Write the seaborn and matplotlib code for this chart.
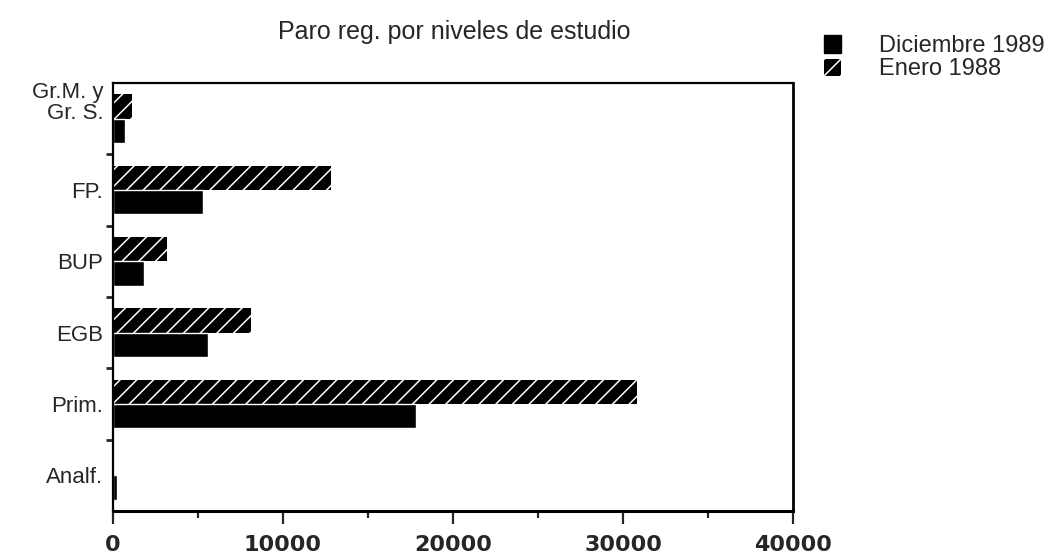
import pandas as pd
import matplotlib
matplotlib.use("Agg")
import matplotlib.pyplot as plt
import seaborn as sns
from matplotlib.patches import Patch
from matplotlib.ticker import MultipleLocator, FixedLocator

# datos
niveles = ["Gr.M. y\nGr. S.", "FP.", "BUP", "EGB", "Prim.", "Analf."]
dic_1989 = [700, 5300, 1800, 5600, 17800, 250]
ene_1988 = [1100, 12800, 3200, 8100, 30800, 0]
periodos = ["Enero 1988", "Diciembre 1989"]

df = pd.DataFrame({
    "nivel": niveles * 2,
    "valor": ene_1988 + dic_1989,
    "periodo": [periodos[0]] * len(niveles) + [periodos[1]] * len(niveles),
})

sns.set_style("white")
plt.rcParams["font.family"] = ["Liberation Sans", "DejaVu Sans"]
plt.rcParams["hatch.linewidth"] = 1.1

fig = plt.figure(figsize=(10.49, 5.6), dpi=100)
ax = fig.add_axes([0.1077, 0.0875, 0.6483, 0.7643])

sns.barplot(data=df, x="valor", y="nivel", hue="periodo", orient="h",
            hue_order=periodos, order=niveles,
            palette={"Enero 1988": "black", "Diciembre 1989": "black"},
            width=0.68, gap=0, saturation=1, legend=False, ax=ax)

# barras de enero 1988 rayadas
for bar in ax.containers[0]:
    bar.set_facecolor("black")
    bar.set_edgecolor("white")
    bar.set_linewidth(0)
    bar.set_hatch("//")

ax.set_xlim(0, 40000)
ax.set_xlabel("")
ax.set_ylabel("")

for side in ["left", "bottom", "top", "right"]:
    ax.spines[side].set_visible(True)
    ax.spines[side].set_color("black")
ax.spines["left"].set_linewidth(1.6)
ax.spines["top"].set_linewidth(1.6)
ax.spines["bottom"].set_linewidth(2.2)
ax.spines["right"].set_linewidth(2.0)

ax.xaxis.set_major_locator(MultipleLocator(10000))
ax.xaxis.set_minor_locator(MultipleLocator(5000))
ax.tick_params(axis="x", which="major", length=9, width=1.6, pad=8,
               labelsize=16, direction="out", bottom=True)
ax.tick_params(axis="x", which="minor", length=5, width=1.6, direction="out",
               bottom=True)
for lab in ax.get_xticklabels():
    lab.set_fontweight("bold")
    lab.set_family("DejaVu Sans")

ax.yaxis.set_minor_locator(FixedLocator([0.5, 1.5, 2.5, 3.5, 4.5]))
ax.tick_params(axis="y", which="major", length=0, pad=7, labelsize=16)
ax.tick_params(axis="y", which="minor", length=5, width=2.0, direction="out",
               left=True)
for lab in ax.get_yticklabels():
    lab.set_linespacing(0.95)
ax.get_yticklabels()[0].set_verticalalignment("baseline")

fig.text(0.433, 0.942, "Paro reg. por niveles de estudio", ha="center",
         va="center", fontsize=18)

handles = [Patch(facecolor="black", edgecolor="black"),
           Patch(facecolor="black", edgecolor="white", linewidth=0, hatch="//")]
fig.legend(handles, ["Diciembre 1989", "Enero 1988"], loc="upper left",
           bbox_to_anchor=(0.765, 0.975), frameon=False, fontsize=17,
           handlelength=0.75, handleheight=0.75, handletextpad=1.6,
           labelspacing=0.05)

fig.savefig("out.png", dpi=100)
